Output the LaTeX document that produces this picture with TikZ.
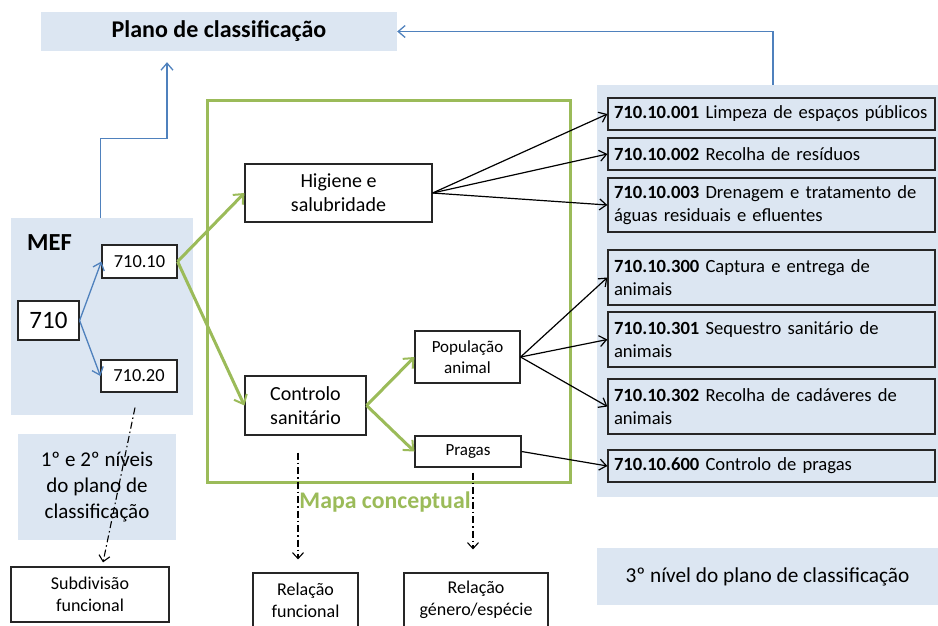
\documentclass[tikz,border=0pt]{standalone}
\usepackage{fontspec}
\setmainfont{Carlito}
\usetikzlibrary{arrows.meta, positioning}

\definecolor{bluebg}{RGB}{220,230,242}
\definecolor{blueline}{RGB}{79,129,189}
\definecolor{greenc}{RGB}{155,187,89}

\newcommand{\fs}[2]{\fontsize{#1}{#2}\selectfont}

\begin{document}
\begin{tikzpicture}[
        x=1pt, y=-1pt,
        region/.style={fill=bluebg, inner sep=0pt},
        box/.style={rectangle, draw=black!85, line width=1.2pt, fill=white, align=center, inner sep=0pt},
        catbox/.style={rectangle, draw=black!85, line width=1.2pt, fill=bluebg, minimum width=327pt, text width=315pt, align=left, inner xsep=6pt, inner ysep=0pt, font=\fs{18.6}{23}},
        greenarrow/.style={-{Straight Barb[length=8pt, width=14pt, line width=2pt]}, line width=3pt, draw=greenc},
        bluearrow/.style={-{Straight Barb[length=7pt, width=12pt]}, line width=1.3pt, draw=blueline},
        blackarrow/.style={-{Straight Barb[length=7pt, width=11pt]}, line width=1.2pt, draw=black},
        dasharrow/.style={-{Straight Barb[length=6pt, width=11pt]}, line width=1.1pt, dash pattern=on 7pt off 3pt on 1.5pt off 3pt}
    ]
    \useasboundingbox (0,0) rectangle (938,625);

    % Regions
    \node (plano) [region, minimum width=356pt, minimum height=39pt, font=\fs{24}{28}\bfseries] at (219,31.5) {Plano de classificação};
    \node (mef) [region, minimum width=182pt, minimum height=197pt] at (102,316.5) {};
    \node (niveis) [region, align=center, minimum width=158pt, minimum height=106pt, font=\fs{21}{26}] at (97,487) {1º e 2º níveis\\ do plano de\\ classificação};
    \node (nivel) [region, minimum width=341pt, minimum height=412pt] at (767.5,291) {};
    \node (nivel3) [region, minimum width=341pt, minimum height=57pt, font=\fs{21.3}{25}] at (767.5,576.5) {3º nível do plano de classificação};
    \node (meflbl) [font=\fs{24.5}{28}\bfseries] at (49.5,243) {MEF};

    % Mapa conceptual
    \node (mapa) [draw=greenc, line width=3pt, minimum width=363pt, minimum height=382pt] at (388.5,291) {};
    \node (mapalbl) [text=greenc, font=\fs{23.8}{28}\bfseries] at (385,502) {Mapa conceptual};

    % Nodes
    \node (n710) [box, minimum width=61pt, minimum height=39pt, font=\fs{25}{29}] at (48.5,320.5) {710};
    \node (n71010) [box, minimum width=75pt, minimum height=33pt, font=\fs{18.4}{22}] at (139.5,261.5) {710.10};
    \node (n71020) [box, minimum width=76pt, minimum height=32pt, font=\fs{18.4}{22}] at (139,376) {710.20};
    \node (subdiv) [box, minimum width=158pt, minimum height=55pt, font=\fs{18}{22}] at (90,594.5) {Subdivisão\\ funcional};
    \node (higiene) [box, minimum width=187pt, minimum height=58pt, font=\fs{20}{24}] at (338.5,193) {Higiene e\\ salubridade};
    \node (controlo) [box, minimum width=121pt, minimum height=59pt, font=\fs{20}{24}] at (305.5,405.5) {Controlo\\ sanitário};
    \node (populacao) [box, minimum width=105pt, minimum height=52pt, font=\fs{17}{21}] at (467.5,357) {População\\ animal};
    \node (pragas) [box, minimum width=106pt, minimum height=31pt, font=\fs{17}{21}] at (468,451.5) {Pragas};
    \node (relfunc) [box, minimum width=105pt, minimum height=54pt, font=\fs{18}{22}] at (305.5,600) {Relação\\ funcional};
    \node (relgen) [box, minimum width=144pt, minimum height=54pt, font=\fs{18}{22}] at (476,600) {Relação\\ género/espécie};

    % Categories
    \node (c001) [catbox, minimum height=32pt] at (771.5,114) {\textbf{710.10.001} Limpeza de espaços públicos};
    \node (c002) [catbox, minimum height=32pt] at (771.5,154) {\textbf{710.10.002} Recolha de resíduos};
    \node (c003) [catbox, minimum height=54pt] at (771.5,205) {\textbf{710.10.003} Drenagem e tratamento de\\ águas residuais e efluentes};
    \node (c300) [catbox, minimum height=55pt] at (771.5,277.5) {\textbf{710.10.300} Captura e entrega de\\ animais};
    \node (c301) [catbox, minimum height=55pt] at (771.5,339.5) {\textbf{710.10.301} Sequestro sanitário de\\ animais};
    \node (c302) [catbox, minimum height=55pt] at (771.5,406.5) {\textbf{710.10.302} Recolha de cadáveres de\\ animais};
    \node (c600) [catbox, minimum height=32pt] at (771.5,466) {\textbf{710.10.600} Controlo de pragas};

    % Arrows
    \draw [bluearrow] (n710.east) -- (n71010.west);
    \draw [bluearrow] (n710.east) -- (n71020.west);
    \draw [bluearrow] (n71020.west |- mef.north) -- ++(0,-79) -| ([xshift=-52pt,yshift=-11pt]plano.south);
    \draw [bluearrow] ([xshift=5.5pt]nivel.north) |- (plano.east);
    \draw [greenarrow] (n71010.east) -- (higiene.west);
    \draw [greenarrow] (n71010.east) -- (controlo.west);
    \draw [greenarrow] (controlo.east) -- (populacao.west);
    \draw [greenarrow] (controlo.east) -- (pragas.west);
    \foreach \c in {c001, c002, c003}
        \draw [blackarrow] (higiene.east) -- (\c.west);
    \foreach \c in {c300, c301, c302}
        \draw [blackarrow] (populacao.east) -- (\c.west);
    \draw [blackarrow] (pragas.east) -- (c600.west);
    \draw [dasharrow] ([xshift=-4pt,yshift=-15pt]n71020.south) -- ([xshift=13pt,yshift=4pt]subdiv.north);
    \draw [dasharrow] ([xshift=-7.5pt,yshift=-17pt]controlo.south) -- ([xshift=-7.5pt,yshift=13pt]relfunc.north);
    \draw [dasharrow] ([xshift=5pt,yshift=-5pt]pragas.south) -- ([xshift=-3pt,yshift=23pt]relgen.north);
\end{tikzpicture}
\end{document}
